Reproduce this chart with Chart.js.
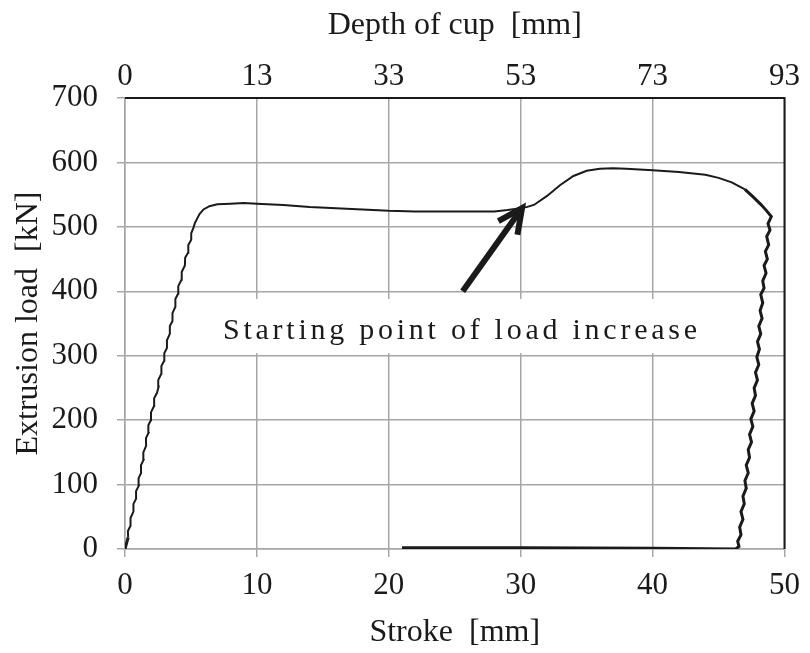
<!DOCTYPE html>
<html>
<head>
<meta charset="utf-8">
<script src="https://cdn.jsdelivr.net/npm/chart.js@4.4.1/dist/chart.umd.min.js"></script>
<style>
  html, body { margin: 0; padding: 0; background: #fff; }
</style>
</head>
<body>
<canvas id="loadChart" width="810" height="653"></canvas>
<script>
// stroke [mm] / load [kN], split by stage
const rampStroke = [0, 0.24, 0.22, 0.42, 0.42, 0.64, 0.64, 0.84, 0.84, 1.04, 1.03, 1.22, 1.21, 1.40, 1.39, 1.60, 1.59, 1.78, 1.77, 1.96,
  1.97, 2.20, 2.21, 2.42, 2.50, 2.55, 2.52, 2.75, 2.76, 2.97, 2.98, 3.18, 3.18, 3.40, 3.40, 3.60, 3.60, 3.82, 3.82, 4.02,
  4.04, 4.28, 4.30, 4.54, 4.56, 4.78, 4.80, 5.02, 5.02, 5.18, 5.30, 5.45, 5.65, 5.95, 6.4, 7.0, 8.0, 9.0];
const rampLoad = [0, 18, 28, 36, 48, 58, 70, 78, 90, 98, 110, 118, 130, 138, 150, 160, 172, 180, 192, 200,
  212, 222, 234, 242, 248, 252, 262, 272, 284, 292, 304, 312, 324, 334, 346, 354, 366, 376, 388, 396,
  408, 418, 430, 440, 452, 460, 472, 480, 490, 498, 506, 512, 520, 527, 532, 535, 536, 537];

const plateauStroke = [10, 12, 14, 16, 18, 20, 22, 24, 26, 28, 29, 30, 30.5, 31, 32, 33, 34, 35, 36, 37, 38, 40, 42, 44, 45, 46, 47, 47.6, 48.2, 48.6, 49.0];
const plateauLoad = [536, 534, 531, 529, 527, 525, 524, 524, 524, 524, 526, 529, 531, 534, 548, 565, 579, 587, 590, 591, 590, 588, 585, 581, 576, 569, 558, 547, 535, 526, 516];

const unloadStroke = [48.75, 48.9, 48.65, 48.8, 48.55, 48.7, 48.45, 48.6, 48.35, 48.45, 48.2, 48.35, 48.15, 48.3, 48.05, 48.2, 47.95, 48.1, 47.9, 48.05,
  47.8, 47.95, 47.7, 47.8, 47.55, 47.7, 47.45, 47.6, 47.35, 47.5, 47.25, 47.35, 47.1, 47.25, 47.0, 47.1, 46.85, 46.95, 46.7, 46.85,
  46.6, 46.7, 46.45, 46.55, 46.3];
const unloadLoad = [505, 495, 485, 472, 462, 450, 440, 428, 416, 405, 395, 382, 370, 358, 346, 334, 322, 310, 298, 286,
  274, 262, 250, 238, 226, 214, 202, 190, 178, 166, 154, 142, 130, 118, 106, 94, 82, 70, 58, 46,
  34, 22, 12, 4, 0];

const returnStroke = [40, 30, 21];
const returnLoad = [1, 2, 2];

const depthLabels = ['0', '13', '33', '53', '73', '93'];

const noteText = 'Starting point of load increase';
const arrowFrom = [25.6, 400];
const arrowTo = [30.1, 529];

const allStroke = rampStroke.concat(plateauStroke, unloadStroke, returnStroke);
const allLoad = rampLoad.concat(plateauLoad, unloadLoad, returnLoad);
const points = allStroke.map((s, i) => ({ x: s, y: allLoad[i] }));

const ink = '#1a1a1a';
const gridGray = '#a6a6a6';
const tickFont = { family: '"Liberation Serif", "Times New Roman", serif', size: 31 };
const titleFont = { family: '"Liberation Serif", "Times New Roman", serif', size: 32 };

const notePlugin = {
  id: 'notePlugin',
  beforeDatasetsDraw(chart) {
    const { ctx, scales: { x, y } } = chart;
    ctx.save();
    // white patch behind the note, hides the grid
    const left = x.getPixelForValue(6.8), right = x.getPixelForValue(43.1);
    const top = y.getPixelForValue(388), bottom = y.getPixelForValue(304);
    ctx.fillStyle = '#fff';
    ctx.fillRect(left, top, right - left, bottom - top);

    ctx.font = '30px "Liberation Serif", "Times New Roman", serif';
    ctx.fillStyle = ink;
    ctx.textBaseline = 'alphabetic';
    const startX = 223, endX = 697;
    const widths = [...noteText].map(c => ctx.measureText(c).width);
    const total = widths.reduce((a, b) => a + b, 0);
    const gap = (endX - startX - total) / (noteText.length - 1);
    let cx = startX;
    const base = y.getPixelForValue(326);
    [...noteText].forEach((c, i) => {
      ctx.fillText(c, cx, base);
      cx += widths[i] + gap;
    });
    ctx.restore();
  },
  afterDatasetsDraw(chart) {
    const { ctx, scales: { x, y } } = chart;
    const x0 = x.getPixelForValue(arrowFrom[0]), y0 = y.getPixelForValue(arrowFrom[1]);
    const x1 = x.getPixelForValue(arrowTo[0]), y1 = y.getPixelForValue(arrowTo[1]);
    const ang = Math.atan2(y1 - y0, x1 - x0);
    ctx.save();
    ctx.strokeStyle = ink;
    ctx.lineWidth = 6;
    ctx.lineCap = 'butt';
    ctx.beginPath();
    ctx.moveTo(x0, y0);
    ctx.lineTo(x1 - 3 * Math.cos(ang), y1 - 3 * Math.sin(ang));
    ctx.stroke();
    const len = 27, spread = 0.45;
    ctx.lineJoin = 'miter';
    ctx.beginPath();
    ctx.moveTo(x1 - len * Math.cos(ang - spread), y1 - len * Math.sin(ang - spread));
    ctx.lineTo(x1, y1);
    ctx.lineTo(x1 - len * Math.cos(ang + spread), y1 - len * Math.sin(ang + spread));
    ctx.stroke();
    ctx.restore();
  },
  afterDraw(chart) {
    const { ctx, chartArea: a } = chart;
    ctx.save();
    ctx.strokeStyle = ink;
    ctx.lineWidth = 2;
    ctx.beginPath();
    ctx.moveTo(a.left, a.top);
    ctx.lineTo(a.right, a.top);
    ctx.lineTo(a.right, a.bottom);
    ctx.stroke();
    ctx.restore();
  }
};

new Chart(document.getElementById('loadChart'), {
  type: 'line',
  data: {
    datasets: [{
      data: points,
      borderColor: ink,
      borderWidth: 2,
      pointRadius: 0,
      tension: 0,
      fill: false,
      segment: {
        borderWidth: c => ((c.p0.parsed.x > 46 && c.p0.parsed.y < 560) || c.p0.parsed.y < 5 ? 3 : 2)
      }
    }]
  },
  options: {
    responsive: false,
    animation: false,
    layout: { padding: { left: 0, right: 18, top: 0, bottom: 0 } },
    plugins: { legend: { display: false }, tooltip: { enabled: false } },
    scales: {
      x: {
        type: 'linear',
        position: 'bottom',
        min: 0, max: 50,
        ticks: { stepSize: 10, color: ink, font: tickFont, padding: 10, maxRotation: 0, autoSkip: false },
        grid: { color: gridGray, lineWidth: 1.5, tickLength: 8 },
        border: { color: gridGray, width: 1.5 },
        title: { display: true, text: 'Stroke  [mm]', color: ink, font: titleFont, padding: { top: 0, bottom: 1 } },
        afterFit(s) { s.height = 104; }
      },
      x2: {
        type: 'linear',
        position: 'top',
        min: 0, max: 50,
        ticks: { stepSize: 10, color: ink, font: tickFont, padding: 3, maxRotation: 0, autoSkip: false,
          callback: (v, i) => depthLabels[i] },
        grid: { display: false, drawTicks: false },
        border: { display: false },
        title: { display: true, text: 'Depth of cup  [mm]', color: ink, font: titleFont, padding: { top: 6, bottom: 0 } },
        afterFit(s) { s.height = 98; }
      },
      y: {
        min: 0, max: 700,
        ticks: { stepSize: 100, color: ink, font: tickFont, padding: 19 },
        grid: { color: gridGray, lineWidth: 1.5, tickLength: 8 },
        border: { color: gridGray, width: 1.5 },
        title: { display: true, text: 'Extrusion load  [kN]', color: ink, font: titleFont, padding: { top: 9, bottom: 0 } },
        afterFit(s) { s.width = 125; }
      }
    }
  },
  plugins: [notePlugin]
});
</script>
</body>
</html>
